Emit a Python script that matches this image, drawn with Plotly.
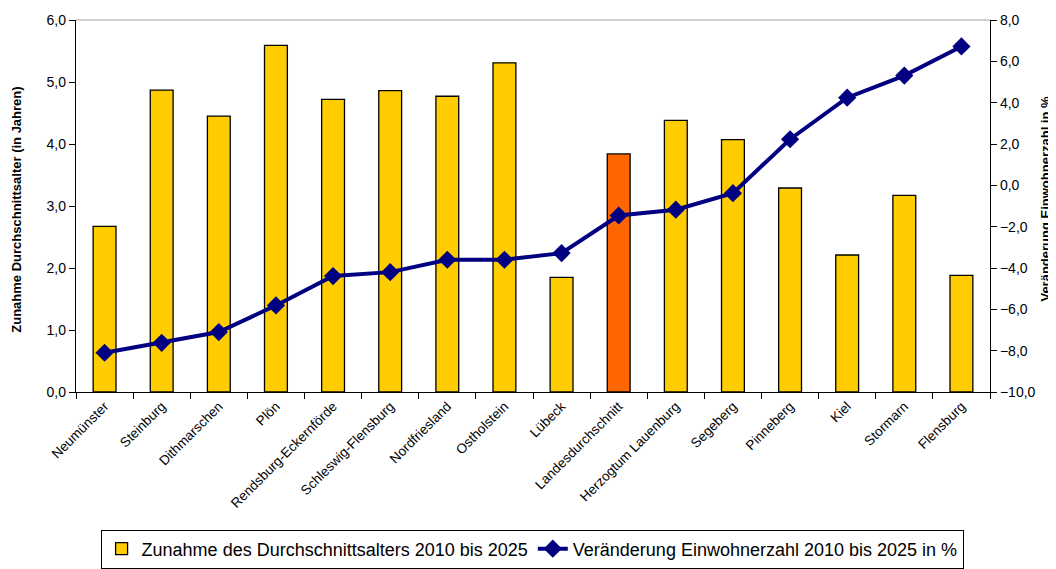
import plotly.graph_objects as go

categories = ["Neumünster", "Steinburg", "Dithmarschen", "Plön", "Rendsburg-Eckernförde",
              "Schleswig-Flensburg", "Nordfriesland", "Ostholstein", "Lübeck",
              "Landesdurchschnitt", "Herzogtum Lauenburg", "Segeberg", "Pinneberg",
              "Kiel", "Stormarn", "Flensburg"]
age_increase = [2.67, 4.87, 4.45, 5.59, 4.72, 4.86, 4.77, 5.31, 1.85,
                3.84, 4.38, 4.07, 3.29, 2.21, 3.17, 1.88]
pop_change = [-8.1, -7.62, -7.1, -5.81, -4.39, -4.2, -3.6, -3.6, -3.28,
              -1.46, -1.18, -0.38, 2.23, 4.24, 5.31, 6.72]

bar_colors = ["#FF6600" if c == "Landesdurchschnitt" else "#FFCC00" for c in categories]

FONT = "Liberation Sans, Arial, sans-serif"

# page body has an 8px margin, so the figure is sized/positioned to compensate
W, H = 1048, 561
ML, MT, MR, MB = 68, 12, 66, 177
PW = W - ML - MR
PH = H - MT - MB

fig = go.Figure()
fig.add_trace(go.Bar(
    x=categories, y=age_increase, name="Zunahme des Durchschnittsalters 2010 bis 2025",
    marker=dict(color=bar_colors, line=dict(color="#000000", width=1.3)),
    width=0.4, yaxis="y",
))
fig.add_trace(go.Scatter(
    x=categories, y=pop_change, name="Veränderung Einwohnerzahl 2010 bis 2025 in %",
    mode="lines+markers", line=dict(color="#000080", width=4),
    marker=dict(symbol="diamond", size=14, color="#000080"),
    yaxis="y2",
))

fig.update_layout(
    width=W, height=H,
    margin=dict(l=ML, r=MR, t=MT, b=MB, pad=0, autoexpand=False),
    paper_bgcolor="white", plot_bgcolor="white",
    font=dict(family=FONT, size=13, color="#000000"),
    separators=",.",
    showlegend=True,
    legend=dict(orientation="h", x=0.499, xanchor="center", y=-(176.5 / PH), yanchor="bottom",
                font=dict(size=18, family=FONT), bordercolor="#000000", borderwidth=1,
                bgcolor="white", itemwidth=30, tracegroupgap=0),
    xaxis=dict(
        type="category", tickangle=-45, tickson="boundaries", ticks="outside", ticklen=6,
        tickcolor="#000000", showline=True, linecolor="#000000", linewidth=1.3,
        tickfont=dict(size=13.5), showgrid=False, range=[-0.5, 15.5], automargin=False,
    ),
    yaxis=dict(
        range=[0, 6], dtick=1, tickformat=".1f", ticks="outside", ticklen=6,
        tickcolor="#000000", showline=True, linecolor="#000000", linewidth=1.3,
        showgrid=False, zeroline=False, tickfont=dict(size=14), automargin=False,
    ),
    yaxis2=dict(
        range=[-10, 8], dtick=2, tickformat=".1f", overlaying="y", side="right",
        ticks="outside", ticklen=6, tickcolor="#000000", showline=True,
        linecolor="#000000", linewidth=1.3, showgrid=False, zeroline=False,
        tickfont=dict(size=14), automargin=False,
    ),
    shapes=[dict(type="line", xref="paper", yref="paper", x0=0, x1=1, y0=1, y1=1,
                 line=dict(color="#A0A0A0", width=1))],
    annotations=[
        dict(text="<b>Zunahme Durchschnittsalter (in Jahren)</b>", xref="paper", yref="paper",
             x=(9 - ML) / PW, y=0.49, textangle=-90, showarrow=False,
             font=dict(size=13, family=FONT), xanchor="center", yanchor="middle"),
        dict(text="<b>Veränderung Einwohnerzahl in %</b>", xref="paper", yref="paper",
             x=1 + 56 / PW, y=0.52, textangle=-90, showarrow=False,
             font=dict(size=13, family=FONT), xanchor="center", yanchor="middle"),
    ],
)

fig.write_html("out.html")
